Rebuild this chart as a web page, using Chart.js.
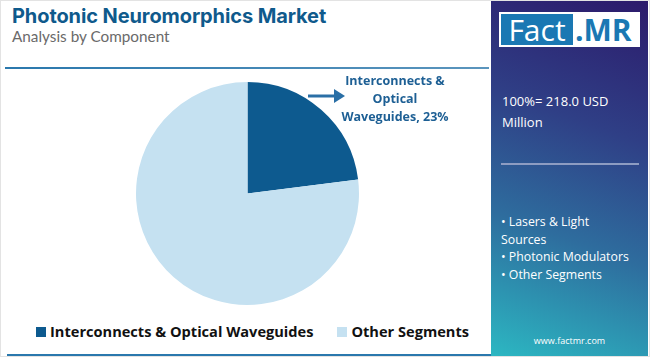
<!DOCTYPE html>
<html><head><meta charset="utf-8">
<script src="https://cdn.jsdelivr.net/npm/chart.js@4/dist/chart.umd.min.js"></script>
<style>
html,body{margin:0;padding:0;background:#fff;}
body{width:650px;height:357px;position:relative;overflow:hidden;font-family:"Open Sans",Roboto,sans-serif;}
#frame{position:absolute;left:0;top:0;width:648px;height:355px;border:1px solid #e3e3e3;}
#title{position:absolute;left:12px;top:4px;font-family:Inter,"Open Sans",sans-serif;font-weight:700;font-size:20px;color:#0f5a8c;letter-spacing:-0.1px;}
#sub{position:absolute;left:12px;top:27px;font-size:15.3px;color:#6a6a6a;font-family:Lato,"Open Sans",sans-serif;}
#topline{position:absolute;left:5px;top:67px;width:484px;height:2px;background:linear-gradient(90deg,#2a78ad,#5b95bd);}
#botline{position:absolute;left:7px;top:354px;width:485px;height:2px;background:#2a78ad;}
#pie{position:absolute;left:126px;top:72px;width:243px;height:243px;}
#ann{position:absolute;left:330px;top:72px;width:130px;text-align:center;font-weight:700;font-size:12.5px;line-height:18px;color:#1d5f94;font-family:"Open Sans",sans-serif;}
#arrow{position:absolute;left:307px;top:88px;}
#legend{position:absolute;left:36px;top:321px;font-weight:700;font-size:14.6px;color:#111;font-family:"Open Sans",sans-serif;white-space:nowrap;}
#legend span.sw{display:inline-block;width:10px;height:10px;margin-right:4px;vertical-align:0px;}
#legend span.it{margin-right:24px;}
#panel{position:absolute;left:491px;top:1px;width:157px;height:355px;background:linear-gradient(200deg,#2c1a6b 0%,#2f3f86 35%,#2e6d9e 65%,#2cb7c2 100%);}
#logo{position:absolute;left:8px;top:11px;width:141px;height:35px;background:#fff;}
#fact{position:absolute;left:2px;top:2px;width:72px;height:31px;background:#1a78b3;color:#fff;font-size:30px;line-height:31px;text-align:center;font-family:"Open Sans",sans-serif;}
#mr{position:absolute;left:76px;top:2px;color:#1a78b3;font-size:30px;line-height:31px;font-weight:700;font-family:"Open Sans",sans-serif;}
#tot{position:absolute;left:11px;top:90px;color:#fff;font-size:13px;line-height:21px;font-family:"Open Sans",sans-serif;}
#pline{position:absolute;left:10px;top:162px;width:138px;height:2px;background:#8d9cc2;}
#bul{position:absolute;left:10px;top:212px;color:#fff;font-size:12.3px;line-height:17.6px;font-family:"Open Sans",sans-serif;}
#web{position:absolute;left:0;width:157px;top:333px;text-align:center;color:#fff;font-size:9px;font-family:"Open Sans",sans-serif;}
</style></head>
<body>
<div id="frame"></div>
<div id="title">Photonic Neuromorphics Market</div>
<div id="sub">Analysis by Component</div>
<div id="topline"></div>
<div id="pie"><canvas id="c" width="243" height="243"></canvas></div>
<svg id="arrow" width="40" height="16"><line x1="1" y1="8" x2="28" y2="8" stroke="#2a6fa6" stroke-width="3"/><polygon points="27,1 38,8 27,15" fill="#2a6fa6"/></svg>
<div id="ann"></div>
<div id="legend"></div>
<div id="botline"></div>
<div id="panel">
  <div id="logo"><div id="fact">Fact</div><div id="mr">.MR</div></div>
  <div id="tot"></div>
  <div id="pline"></div>
  <div id="bul"></div>
  <div id="web">www.factmr.com</div>
</div>
<script>
const categories = ["Interconnects & Optical Waveguides", "Other Segments"];
const shares = [23, 77];
const sliceColors = ["#0d5a8f", "#c5e1f1"];
const totalLabel = "100%= 218.0 USD Million";
const otherSegments = ["Lasers & Light Sources", "Photonic Modulators", "Other Segments"];

document.getElementById('ann').innerHTML = "Interconnects &amp;<br>Optical<br>Waveguides, " + shares[0] + "%";
document.getElementById('tot').innerHTML = "100%= 218.0 USD<br>Million";
document.getElementById('bul').innerHTML = "• Lasers &amp; Light<br>Sources<br>• Photonic Modulators<br>• Other Segments";
document.getElementById('legend').innerHTML = categories.map((c,i)=>
  '<span class="it"><span class="sw" style="background:'+sliceColors[i]+'"></span>'+c.replace('&','&amp;')+'</span>').join('');

new Chart(document.getElementById('c'), {
  type: 'pie',
  data: { labels: categories, datasets: [{ data: shares, backgroundColor: sliceColors, borderWidth: 0 }] },
  options: {
    responsive: false, animation: false,
    layout: { padding: 10 },
    plugins: { legend: { display: false }, tooltip: { enabled: false } }
  }
});
</script>
</body></html>
